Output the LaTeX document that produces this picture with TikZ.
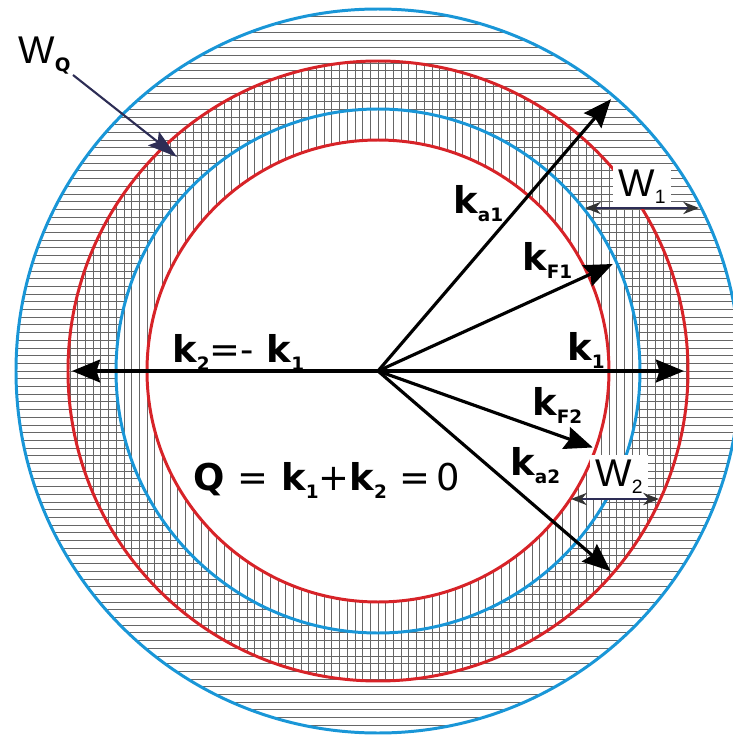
\documentclass[tikz,border=0pt]{standalone}
\usepackage{fontspec}
\setmainfont{Liberation Sans}
\newfontfamily\dejavu{DejaVu Sans}
\usetikzlibrary{arrows.meta}
\definecolor{fsblue}{RGB}{25,150,215}
\definecolor{fsred}{RGB}{215,35,40}
\definecolor{wline}{RGB}{45,45,85}
\newcommand{\ksub}[1]{\raisebox{-0.4ex}{\fontsize{10.5}{12}\selectfont #1}}
\newcommand{\wsub}[1]{\raisebox{-0.35ex}{\fontsize{11}{12}\selectfont #1}}
\tikzstyle{blueline} = [
    draw=fsblue,
    line width=1.7pt
]
\tikzstyle{redline} = [
    draw=fsred,
    line width=1.7pt
]
\tikzstyle{hatchline} = [
    draw=black!60,
    line width=0.45pt
]
\tikzstyle{vec} = [
    line width=1.8pt,
    -{Stealth[length=16pt, width=13pt, inset=2pt]}
]
\tikzstyle{klabel} = [
    font=\dejavu\bfseries\fontsize{21}{24}\selectfont,
    inner sep=0pt,
    anchor=base west
]
\tikzstyle{wlabel} = [
    font=\fontsize{22}{26}\selectfont,
    fill=white,
    inner sep=3pt
]
\tikzstyle{wspan} = [
    draw=wline,
    line width=0.9pt,
    {Stealth[length=9pt, width=7pt, color=black!80]}-{Stealth[length=9pt, width=7pt, color=black!80]}
]
\tikzstyle{pointer} = [
    draw=wline,
    line width=1.2pt,
    -{Stealth[length=17pt, width=10pt, inset=3pt]}
]

\begin{document}
\begin{tikzpicture}[x=0.02cm, y=0.02cm]

\useasboundingbox (-378,-364) rectangle (355,371);

\coordinate (O) at (0,0);

% blue band: horizontal lines
\begin{scope}[even odd rule]
\clip (O) circle[radius=362] (O) circle[radius=262];
\foreach \i in {-48,...,48}
    \draw [hatchline] (-370,\i*7.7) -- (370,\i*7.7);
\end{scope}

% red band: vertical lines
\begin{scope}[even odd rule]
\clip (O) circle[radius=310] (O) circle[radius=231];
\foreach \i in {-41,...,41}
    \draw [hatchline] (\i*7.7,-320) -- (\i*7.7,320);
\end{scope}

\draw [blueline] (O) circle[radius=362];
\draw [blueline] (O) circle[radius=262];
\draw [redline] (O) circle[radius=310];
\draw [redline] (O) circle[radius=231];

\coordinate (ka1) at (49.4:358);
\coordinate (kF1) at (24.5:258);
\coordinate (k1) at (0:306);
\coordinate (k2) at (180:306);
\coordinate (kF2) at (-19.6:228);
\coordinate (ka2) at (-40.7:307);

\draw [vec] (O) -- (ka1);
\draw [vec] (O) -- (kF1);
\draw [vec] (O) -- (k1);
\draw [vec] (O) -- (k2);
\draw [vec] (O) -- (kF2);
\draw [vec] (O) -- (ka2);

\node (la1) [klabel] at (75,158) {k\ksub{a1}};
\node (lF1) [klabel] at (144,101) {k\ksub{F1}};
\node (l1) [klabel] at (189,11) {k\ksub{1}};
\node (lF2) [klabel] at (154,-44) {k\ksub{F2}};
\node (la2) [klabel] at (132,-104) {k\ksub{a2}};
\node (l2) [klabel] at (-206,9) {k\ksub{2}{\mdseries=-} k\ksub{1}};
\node (lQ) [klabel] at (-185,-119) {Q {\mdseries =} k\ksub{1}{\mdseries+}k\ksub{2} {\mdseries =\,0}};

\node (W1) [wlabel] at (264,184) {W\wsub{1}};
\node (W2) [wlabel] at (241,-106) {W\wsub{2}};

\coordinate (w1l) at (207,163);
\coordinate (w1r) at (321,163);
\coordinate (w2l) at (193,-128);
\coordinate (w2r) at (281,-128);

\draw [wspan] (w1l) -- (w1r);
\draw [wspan] (w2l) -- (w2r);

\node (WQ) [anchor=base west, inner sep=0pt, font=\fontsize{22}{26}\selectfont] at (-360,308)
{W\raisebox{-0.4ex}{\dejavu\bfseries\fontsize{10.5}{12}\selectfont Q}};
\coordinate (wqtail) at (-305,296);
\coordinate (wqtip) at (-201,214);

\draw [pointer] (wqtail) -- (wqtip);

\end{tikzpicture}
\end{document}
